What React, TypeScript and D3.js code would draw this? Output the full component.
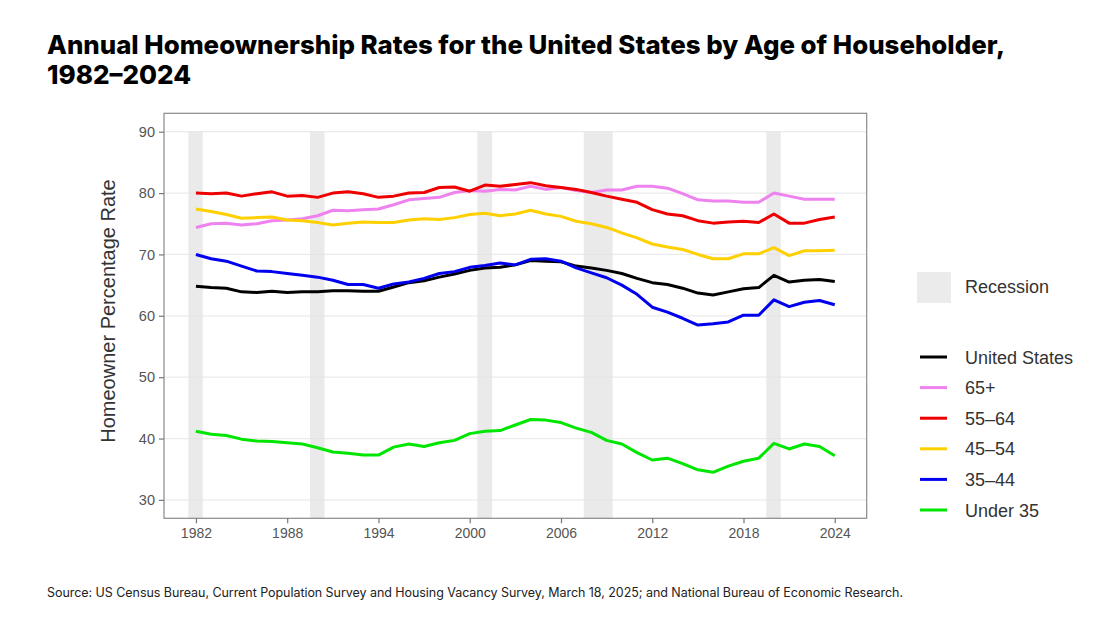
import * as d3 from "d3";
import { useEffect, useRef } from "react";

const years = [
  1982, 1983, 1984, 1985, 1986, 1987, 1988, 1989, 1990, 1991, 1992, 1993, 1994, 1995, 1996,
  1997, 1998, 1999, 2000, 2001, 2002, 2003, 2004, 2005, 2006, 2007, 2008, 2009, 2010, 2011,
  2012, 2013, 2014, 2015, 2016, 2017, 2018, 2019, 2020, 2021, 2022, 2023, 2024,
];

const unitedStates = [
  64.8, 64.6, 64.5, 63.9, 63.8, 64.0, 63.8, 63.9, 63.9, 64.1, 64.1, 64.0, 64.0, 64.7, 65.4,
  65.7, 66.3, 66.8, 67.4, 67.8, 67.9, 68.3, 69.0, 68.9, 68.8, 68.1, 67.8, 67.4, 66.9, 66.1,
  65.4, 65.1, 64.5, 63.7, 63.4, 63.9, 64.4, 64.6, 66.6, 65.5, 65.8, 65.9, 65.6,
];
const age65plus = [
  74.4, 75.0, 75.1, 74.8, 75.0, 75.5, 75.6, 75.8, 76.3, 77.2, 77.1, 77.3, 77.4, 78.1, 78.9,
  79.1, 79.3, 80.1, 80.4, 80.3, 80.6, 80.5, 81.1, 80.6, 80.9, 80.4, 80.1, 80.5, 80.5, 81.1,
  81.1, 80.8, 79.9, 78.9, 78.7, 78.7, 78.5, 78.5, 80.0, 79.5, 79.0, 79.0, 79.0,
];
const age55to64 = [
  80.0, 79.9, 80.0, 79.5, 79.9, 80.2, 79.5, 79.6, 79.3, 80.0, 80.2, 79.9, 79.3, 79.5, 80.0,
  80.1, 80.9, 81.0, 80.3, 81.3, 81.1, 81.4, 81.7, 81.2, 80.9, 80.6, 80.1, 79.5, 79.0, 78.5,
  77.3, 76.6, 76.3, 75.5, 75.1, 75.3, 75.4, 75.2, 76.6, 75.1, 75.1, 75.7, 76.1,
];
const age45to54 = [
  77.4, 77.0, 76.5, 75.9, 76.0, 76.1, 75.6, 75.5, 75.2, 74.8, 75.1, 75.3, 75.2, 75.2, 75.6,
  75.8, 75.7, 76.0, 76.5, 76.7, 76.3, 76.6, 77.2, 76.6, 76.2, 75.4, 75.0, 74.4, 73.5, 72.7,
  71.7, 71.2, 70.8, 70.0, 69.3, 69.3, 70.1, 70.1, 71.1, 69.8, 70.6, 70.6, 70.7,
];
const age35to44 = [
  70.0, 69.3, 68.9, 68.1, 67.3, 67.2, 66.9, 66.6, 66.3, 65.8, 65.1, 65.1, 64.5, 65.2, 65.5,
  66.1, 66.9, 67.2, 67.9, 68.2, 68.6, 68.3, 69.2, 69.3, 68.9, 67.8, 67.0, 66.2, 65.0, 63.5,
  61.4, 60.6, 59.6, 58.5, 58.7, 59.0, 60.1, 60.1, 62.6, 61.5, 62.2, 62.5, 61.8,
];
const under35 = [
  41.2, 40.7, 40.5, 39.9, 39.6, 39.5, 39.3, 39.1, 38.5, 37.8, 37.6, 37.3, 37.3, 38.6, 39.1,
  38.7, 39.3, 39.7, 40.8, 41.2, 41.3, 42.2, 43.1, 43.0, 42.6, 41.7, 41.0, 39.7, 39.1, 37.7,
  36.5, 36.8, 35.9, 34.9, 34.5, 35.5, 36.3, 36.8, 39.2, 38.3, 39.1, 38.7, 37.2,
];

const seriesNames = ["United States", "65+", "55–64", "45–54", "35–44", "Under 35"];
const seriesValues = [unitedStates, age65plus, age55to64, age45to54, age35to44, under35];
const seriesColors = ["#000000", "#ee82ee", "#ee0000", "#ffd000", "#0000ee", "#00e600"];

// shaded recession spans, as drawn in the source chart
const recessionStart = [1981.5, 1989.5, 2000.5, 2007.5, 2019.5];
const recessionEnd = [1982.45, 1990.45, 2001.47, 2009.4, 2020.45];

const xTicks = [1982, 1988, 1994, 2000, 2006, 2012, 2018, 2024];
const yTicks = [30, 40, 50, 60, 70, 80, 90];

const titleLines = [
  "Annual Homeownership Rates for the United States by Age of Householder,",
  "1982–2024",
];
const sourceNote =
  "Source: US Census Bureau, Current Population Survey and Housing Vacancy Survey, March 18, 2025; and National Bureau of Economic Research.";

type Pt = { year: number; v: number };

function HomeownershipChart() {
  const ref = useRef<SVGSVGElement | null>(null);

  useEffect(() => {
    const el = ref.current;
    if (!el) return;
    document.body.style.margin = "0";

    const svg = d3.select(el);
    svg.selectAll("*").remove();

    const W = 1120;
    const H = 626;
    const panel = { left: 164, right: 866.7, top: 113.3, bottom: 518.3 };

    const x = d3.scaleLinear().domain([1979.9, 2026.1]).range([panel.left, panel.right]);
    const y = d3.scaleLinear().domain([27, 93]).range([panel.bottom, panel.top]);

    const axisFont = "'Liberation Sans', Arial, sans-serif";
    const tickGrey = "#555555";

    svg.attr("width", W).attr("height", H).attr("viewBox", `0 0 ${W} ${H}`);
    svg.append("rect").attr("width", W).attr("height", H).attr("fill", "#ffffff");

    // title
    svg
      .append("g")
      .selectAll("text")
      .data(titleLines)
      .join("text")
      .attr("x", 47)
      .attr("y", (_, i) => 54 + i * 30)
      .attr("font-family", "Inter, 'Open Sans', sans-serif")
      .attr("font-weight", 800)
      .attr("font-size", 26)
      .attr("fill", "#000")
      .attr("textLength", (_, i) => (i === 0 ? 958 : null))
      .attr("lengthAdjust", "spacingAndGlyphs")
      .text((d) => d);

    // grid
    svg
      .append("g")
      .selectAll("line")
      .data(yTicks)
      .join("line")
      .attr("x1", panel.left)
      .attr("x2", panel.right)
      .attr("y1", (d) => y(d))
      .attr("y2", (d) => y(d))
      .attr("stroke", "#ebebeb")
      .attr("stroke-width", 1.2);

    // recessions
    svg
      .append("g")
      .selectAll("rect")
      .data(recessionStart)
      .join("rect")
      .attr("x", (d) => x(d))
      .attr("width", (d, i) => x(recessionEnd[i]) - x(d))
      .attr("y", y(90))
      .attr("height", panel.bottom - y(90))
      .attr("fill", "#e3e3e3")
      .attr("opacity", 0.75);

    // lines
    const line = d3
      .line<Pt>()
      .x((d) => x(d.year))
      .y((d) => y(d.v));

    seriesValues.forEach((vals, i) => {
      const pts = years.map((yr, j) => ({ year: yr, v: vals[j] }));
      svg
        .append("path")
        .datum(pts)
        .attr("fill", "none")
        .attr("stroke", seriesColors[i])
        .attr("stroke-width", 3)
        .attr("stroke-linejoin", "round")
        .attr("stroke-linecap", "butt")
        .attr("d", line);
    });

    // panel border
    svg
      .append("rect")
      .attr("x", panel.left)
      .attr("y", panel.top)
      .attr("width", panel.right - panel.left)
      .attr("height", panel.bottom - panel.top)
      .attr("fill", "none")
      .attr("stroke", "#8a8a8a")
      .attr("stroke-width", 1.2);

    // y axis
    svg
      .append("g")
      .attr("transform", `translate(${panel.left},0)`)
      .call(d3.axisLeft(y).tickValues(yTicks).tickSize(5).tickPadding(4))
      .call((ga) => ga.select(".domain").remove())
      .call((ga) => ga.selectAll(".tick line").attr("stroke", "#777").attr("stroke-width", 1.2))
      .call((ga) =>
        ga
          .selectAll(".tick text")
          .attr("fill", tickGrey)
          .attr("font-size", 14.5)
          .attr("font-family", axisFont),
      );

    // x axis
    svg
      .append("g")
      .attr("transform", `translate(0,${panel.bottom})`)
      .call(
        d3
          .axisBottom(x)
          .tickValues(xTicks)
          .tickSize(5)
          .tickPadding(5)
          .tickFormat(d3.format("d") as (v: d3.NumberValue) => string),
      )
      .call((ga) => ga.select(".domain").remove())
      .call((ga) => ga.selectAll(".tick line").attr("stroke", "#777").attr("stroke-width", 1.2))
      .call((ga) =>
        ga
          .selectAll(".tick text")
          .attr("fill", tickGrey)
          .attr("font-size", 14)
          .attr("font-family", axisFont),
      );

    svg
      .append("text")
      .attr("transform", `translate(115,311) rotate(-90)`)
      .attr("text-anchor", "middle")
      .attr("font-family", axisFont)
      .attr("font-size", 20)
      .attr("fill", "#333")
      .text("Homeowner Percentage Rate");

    // legend
    const lg = svg.append("g").attr("font-family", axisFont).attr("font-size", 18).attr("fill", "#333");
    lg.append("rect")
      .attr("x", 917)
      .attr("y", 272)
      .attr("width", 34)
      .attr("height", 31)
      .attr("fill", "#ebebeb");
    lg.append("text").attr("x", 965).attr("y", 293).text("Recession");

    const items = lg
      .selectAll("g.item")
      .data(seriesNames)
      .join("g")
      .attr("class", "item")
      .attr("transform", (_, i) => `translate(0,${357 + i * 30.6})`);
    items
      .append("line")
      .attr("x1", 920)
      .attr("x2", 947)
      .attr("stroke", (_, i) => seriesColors[i])
      .attr("stroke-width", 3);
    items
      .append("text")
      .attr("x", 965)
      .attr("y", 6.5)
      .text((d) => d);

    svg
      .append("text")
      .attr("x", 47)
      .attr("y", 597)
      .attr("font-family", "Inter, 'Open Sans', sans-serif")
      .attr("font-size", 12.5)
      .attr("fill", "#222")
      .attr("textLength", 856)
      .text(sourceNote);
  }, []);

  return <svg ref={ref} style={{ display: "block" }} />;
}

export default function App() {
  return <HomeownershipChart />;
}
